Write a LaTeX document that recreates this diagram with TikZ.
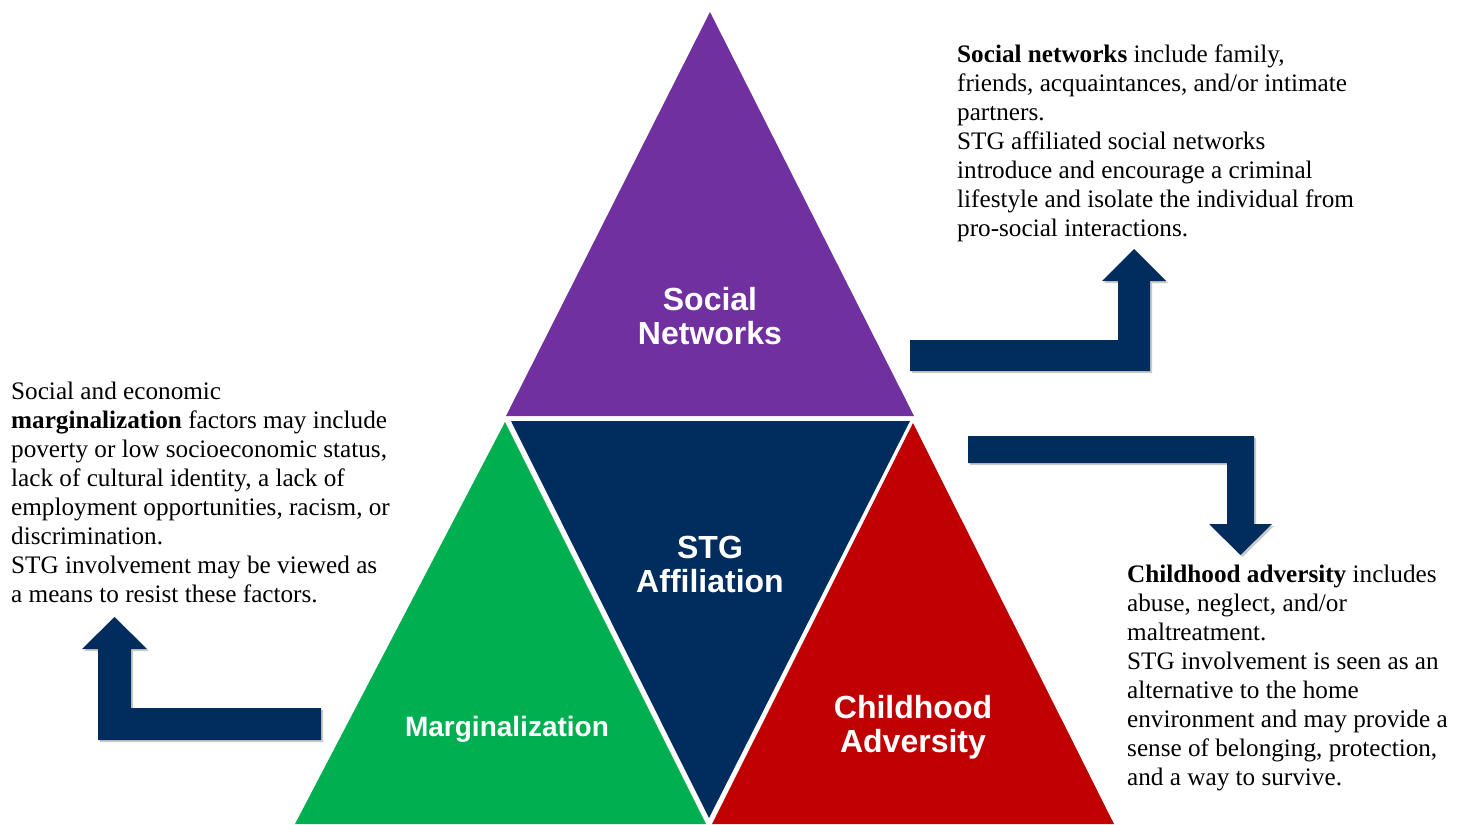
\documentclass[tikz,border=0pt]{standalone}
\usepackage{fontspec}
\setmainfont{Liberation Serif}
\newfontfamily\labelfont{Liberation Sans}
\usetikzlibrary{shadows}
\definecolor{cpurple}{HTML}{7030A0}
\definecolor{cnavy}{HTML}{002D5E}
\definecolor{cgreen}{HTML}{00B050}
\definecolor{cred}{HTML}{C00000}
\tikzset{
  bigarrow/.style={fill=cnavy, draw=none, drop shadow={opacity=0.35, shadow xshift=2pt, shadow yshift=-2pt, fill=black!60}},
  trilabel/.style={text=white, font=\labelfont\bfseries\fontsize{32}{34}\selectfont, align=center, inner sep=0pt},
  body/.style={font=\fontsize{25.2}{29}\selectfont, align=left, anchor=north west, inner sep=0pt, text=black}
}
\begin{document}
\begin{tikzpicture}[x=1pt,y=-1pt]
\useasboundingbox (0,0) rectangle (1468,825);
% triangles
\fill[cpurple] (710,12) -- (506,416) -- (914,416) -- cycle;
\fill[cnavy] (511,421) -- (910,421) -- (709,818) -- cycle;
\fill[cgreen] (505,422) -- (295,824) -- (706,824) -- cycle;
\fill[cred] (913,423) -- (712,824) -- (1114,824) -- cycle;
% labels
\node[trilabel] (sn) at (710,316) {Social\\Networks};
\node[trilabel] (stg) at (710,564.5) {STG\\Affiliation};
\node[trilabel, font=\labelfont\bfseries\fontsize{28}{34}\selectfont] (mg) at (507,729) {Marginalization};
\node[trilabel] (ca) at (913,727) {Childhood\\Adversity};
% arrows
\path[bigarrow] (910,340) -- (1118,340) -- (1118,281) -- (1102,281) -- (1134,249) -- (1166,281) -- (1150,281) -- (1150,371) -- (910,371) -- cycle;
\path[bigarrow] (968,436) -- (1254,436) -- (1254,524) -- (1272,524) -- (1240.5,555) -- (1209,524) -- (1227,524) -- (1227,463) -- (968,463) -- cycle;
\path[bigarrow] (321,708) -- (131,708) -- (131,649) -- (147,649) -- (114.5,617) -- (82,649) -- (98,649) -- (98,740) -- (321,740) -- cycle;
% texts
\node[body] (t1) at (957,44.5) {\textbf{Social networks} include family,\\friends, acquaintances, and/or intimate\\partners.\\STG affiliated social networks\\introduce and encourage a criminal\\lifestyle and isolate the individual from\\pro-social interactions.};
\node[body] (t2) at (11,381.5) {Social and economic\\\textbf{marginalization} factors may include\\poverty or low socioeconomic status,\\lack of cultural identity, a lack of\\employment opportunities, racism, or\\discrimination.\\STG involvement may be viewed as\\a means to resist these factors.};
\node[body] (t3) at (1127,564.5) {\textbf{Childhood adversity} includes\\abuse, neglect, and/or\\maltreatment.\\STG involvement is seen as an\\alternative to the home\\environment and may provide a\\sense of belonging, protection,\\and a way to survive.};
\end{tikzpicture}
\end{document}
